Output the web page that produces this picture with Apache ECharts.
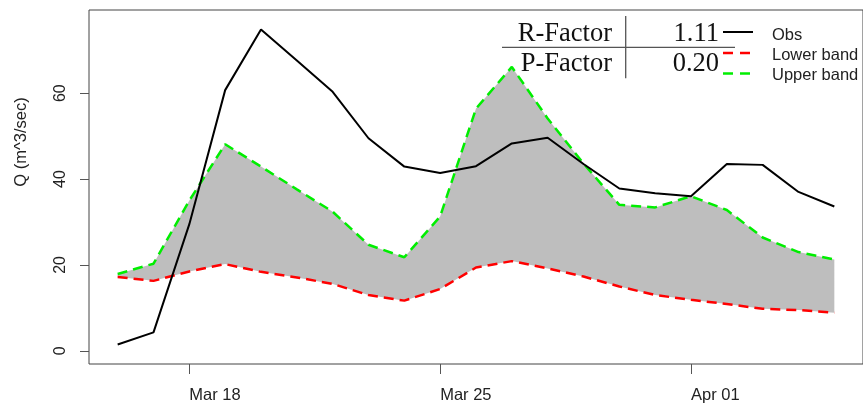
<!DOCTYPE html>
<html>
<head>
<meta charset="utf-8">
<script src="https://cdn.jsdelivr.net/npm/echarts@6/dist/echarts.min.js"></script>
<style>
html,body{margin:0;padding:0;background:#fff;}
#chart{width:863px;height:407px;}
</style>
</head>
<body>
<div id="chart"></div>
<script>
const dates = ['2015-03-16','2015-03-17','2015-03-18','2015-03-19','2015-03-20','2015-03-21','2015-03-22',
  '2015-03-23','2015-03-24','2015-03-25','2015-03-26','2015-03-27','2015-03-28','2015-03-29',
  '2015-03-30','2015-03-31','2015-04-01','2015-04-02','2015-04-03','2015-04-04','2015-04-05'];
const obs = [1.5, 4.3, 29.5, 60.7, 74.8, 67.6, 60.3, 49.5, 42.9, 41.4, 43.0, 48.3, 49.6, 43.5, 37.8, 36.7, 36.0, 43.5, 43.3, 37.0, 33.6];
const upperBand = [17.9, 20.3, 35.0, 48.1, 42.9, 37.6, 32.4, 24.7, 21.8, 31.3, 56.4, 66.1, 54.1, 43.6, 34.0, 33.4, 36.0, 32.8, 26.4, 23.0, 21.3];
const lowerBand = [17.2, 16.3, 18.5, 20.2, 18.4, 17.1, 15.6, 13.0, 11.7, 14.4, 19.4, 20.9, 19.2, 17.3, 15.0, 13.0, 11.9, 10.9, 9.8, 9.5, 8.9];
const xTickDates = ['2015-03-18','2015-03-25','2015-04-01'];
const xTickLabels = ['Mar 18','Mar 25','Apr 01'];
const yTicks = [0, 20, 40, 60];
const legendNames = ['Obs', 'Lower band', 'Upper band'];
const rFactor = '1.11';
const pFactor = '0.20';

const DAY = 86400000;
const ts = d => Date.parse(d + 'T00:00:00Z');
const xs = dates.map(ts);
const tickTs = xTickDates.map(ts);
const pair = arr => arr.map((v, i) => [xs[i], v]);

const RED = '#FF0000', GREEN = '#00EE00', GREY = '#BEBEBE';
const chart = echarts.init(document.getElementById('chart'));
const sans = 'Liberation Sans';
const serif = 'Liberation Serif';

function renderBand(params, api) {
  const pts = [];
  for (let i = 0; i < xs.length; i++) pts.push(api.coord([xs[i], upperBand[i]]));
  for (let i = xs.length - 1; i >= 0; i--) pts.push(api.coord([xs[i], lowerBand[i]]));
  return { type: 'polygon', shape: { points: pts }, style: { fill: GREY, stroke: null } };
}

// legend keys
const lgX1 = 723, lgX2 = 753, lgTextX = 772, lgY = [32, 53, 73.5], lgTextY = [35, 55, 75.5];
const dash = (y, color) => [
  { type: 'line', z: 10, shape: { x1: lgX1, y1: y, x2: lgX1 + 10, y2: y }, style: { stroke: color, lineWidth: 2.5 } },
  { type: 'line', z: 10, shape: { x1: lgX1 + 17, y1: y, x2: lgX1 + 27, y2: y }, style: { stroke: color, lineWidth: 2.5 } }
];

chart.setOption({
  animation: false,
  backgroundColor: '#fff',
  grid: { left: 89, top: 10, width: 779, bottom: 43, show: true, borderColor: '#444', borderWidth: 1, containLabel: false },
  xAxis: {
    type: 'value',
    min: xs[0] - 0.8 * DAY,
    max: xs[xs.length - 1] + 0.8 * DAY,
    splitLine: { show: false },
    axisLine: { show: false, onZero: false },
    axisTick: { show: true, length: 10, customValues: tickTs, lineStyle: { color: '#555' } },
    axisLabel: {
      customValues: tickTs,
      formatter: v => { const i = tickTs.indexOf(v); return i >= 0 ? xTickLabels[i] : ''; },
      align: 'left', margin: 23, fontSize: 16.5, fontFamily: sans, color: '#222'
    }
  },
  yAxis: {
    type: 'value',
    min: -3.05, max: 79.35,
    splitLine: { show: false },
    axisLine: { show: false, onZero: false },
    axisTick: { show: true, length: 9, customValues: yTicks, lineStyle: { color: '#555' } },
    axisLabel: { customValues: yTicks, rotate: 90, margin: 20, fontSize: 16, fontFamily: sans, color: '#222' }
  },
  series: [
    { name: 'band', type: 'custom', renderItem: renderBand, data: [[xs[0], upperBand[0]]], silent: true, z: 1 },
    { name: legendNames[1], type: 'line', data: pair(lowerBand), symbol: 'none', z: 3,
      lineStyle: { color: RED, width: 2.5, type: [10, 6] } },
    { name: legendNames[2], type: 'line', data: pair(upperBand), symbol: 'none', z: 3,
      lineStyle: { color: GREEN, width: 2.5, type: [10, 6] } },
    { name: legendNames[0], type: 'line', data: pair(obs), symbol: 'none', z: 4,
      lineStyle: { color: '#000', width: 2 } }
  ],
  graphic: [
    { type: 'text', x: 21, y: 142, rotation: Math.PI / 2,
      style: { text: 'Q (m^3/sec)', align: 'center', verticalAlign: 'middle', fontSize: 16.5, fontFamily: sans, fill: '#222' } },
    { type: 'text', x: 612, y: 34, z: 10,
      style: { text: 'R-Factor', align: 'right', verticalAlign: 'middle', fontSize: 26.5, fontFamily: serif, fill: '#111' } },
    { type: 'text', x: 612, y: 64, z: 10,
      style: { text: 'P-Factor', align: 'right', verticalAlign: 'middle', fontSize: 26.5, fontFamily: serif, fill: '#111' } },
    { type: 'text', x: 719, y: 34, z: 10,
      style: { text: rFactor, align: 'right', verticalAlign: 'middle', fontSize: 26.5, fontFamily: serif, fill: '#111' } },
    { type: 'text', x: 719, y: 64, z: 10,
      style: { text: pFactor, align: 'right', verticalAlign: 'middle', fontSize: 26.5, fontFamily: serif, fill: '#111' } },
    { type: 'line', z: 10, shape: { x1: 502, y1: 47.3, x2: 735, y2: 47.3 }, style: { stroke: '#555', lineWidth: 1.3 } },
    { type: 'line', z: 10, shape: { x1: 625.7, y1: 16, x2: 625.7, y2: 78.3 }, style: { stroke: '#555', lineWidth: 1.3 } },
    { type: 'line', z: 10, shape: { x1: lgX1, y1: lgY[0], x2: lgX2, y2: lgY[0] }, style: { stroke: '#000', lineWidth: 2 } },
    ...dash(lgY[1], RED),
    ...dash(lgY[2], GREEN),
    ...legendNames.map((n, i) => ({ type: 'text', x: lgTextX, y: lgTextY[i], z: 10,
      style: { text: n, align: 'left', verticalAlign: 'middle', fontSize: 16.5, fontFamily: sans, fill: '#222' } }))
  ]
});
</script>
</body>
</html>
